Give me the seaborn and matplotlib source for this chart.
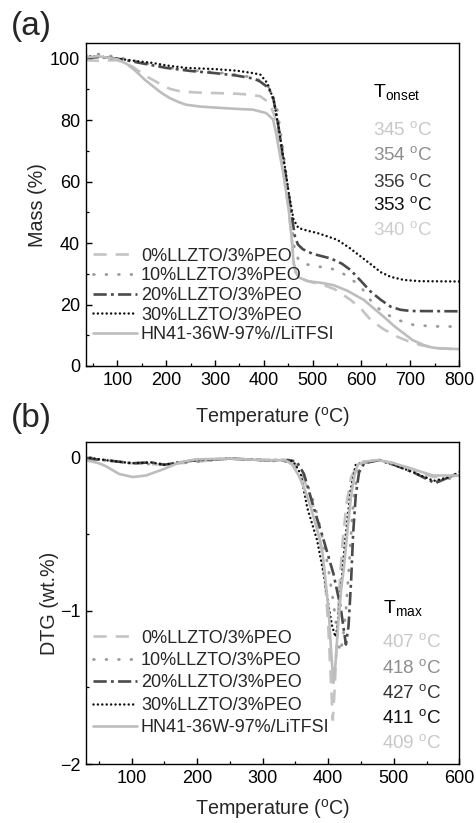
import numpy as np
import pandas as pd
import seaborn as sns
import matplotlib.pyplot as plt
from matplotlib.ticker import MultipleLocator

sns.set_style("ticks")
plt.rcParams['font.family'] = ['Liberation Sans', 'DejaVu Sans']
plt.rcParams['mathtext.fontset'] = 'custom'
plt.rcParams['mathtext.rm'] = 'Liberation Sans'
plt.rcParams['mathtext.it'] = 'Liberation Sans:italic'
plt.rcParams['mathtext.default'] = 'regular'

# ---------------- TGA data (panel a) ----------------
tga_labels = ["0%LLZTO/3%PEO", "10%LLZTO/3%PEO", "20%LLZTO/3%PEO",
              "30%LLZTO/3%PEO", "HN41-36W-97%//LiTFSI"]

tga_t_0 = [35, 60, 100, 130, 159, 185, 207, 230, 262, 300, 344, 370, 392, 412, 425, 433,
           441, 451, 458, 462, 468, 480, 500, 520, 545, 578, 600, 619, 645, 674, 700, 722, 750, 800]
tga_m_0 = [99.5, 99.3, 99.5, 97.5, 94.3, 92.0, 90.2, 89.3, 89.0, 88.8, 88.6, 88.3, 87.8, 85.6, 80.0, 72.0,
           62.0, 51.0, 40.0, 33.0, 29.5, 28.2, 27.2, 26.5, 25.0, 21.5, 18.5, 15.0, 12.0, 9.5, 7.8, 6.8, 5.9, 5.4]

tga_t_10 = [35, 60, 100, 150, 200, 250, 300, 344, 380, 405, 418, 428, 438, 446, 452, 458, 463,
            470, 478, 500, 537, 560, 578, 600, 626, 650, 674, 708, 750, 800]
tga_m_10 = [101.0, 101.5, 100.5, 98.8, 97.2, 96.2, 95.6, 94.8, 93.8, 92.0, 88.5, 83.0, 72.0, 62.0, 54.0, 45.0, 38.0,
            35.0, 33.5, 32.6, 31.8, 30.3, 28.5, 25.5, 19.8, 17.0, 15.0, 13.3, 12.9, 12.8]

tga_t_20 = [35, 60, 100, 150, 200, 250, 300, 344, 380, 392, 410, 420, 430, 440, 451, 459, 464,
            470, 480, 500, 537, 560, 578, 600, 619, 640, 660, 680, 701, 800]
tga_m_20 = [100.2, 100.5, 100.0, 98.5, 97.0, 96.0, 95.3, 94.5, 93.5, 92.6, 90.5, 86.7, 78.0, 67.0, 56.0, 47.0, 42.0,
            39.5, 38.0, 36.5, 35.0, 33.3, 31.2, 27.5, 24.2, 21.5, 19.3, 18.3, 17.9, 17.8]

tga_t_30 = [35, 60, 100, 140, 173, 200, 241, 300, 344, 378, 393, 407, 420, 430, 441, 451, 461,
            471, 490, 509, 530, 550, 575, 598, 620, 640, 660, 687, 720, 800]
tga_m_30 = [100.8, 100.8, 100.0, 99.2, 98.6, 97.8, 97.0, 96.6, 96.1, 95.3, 94.8, 92.1, 86.7, 78.0, 67.1, 56.3, 47.6,
            44.9, 44.0, 43.3, 42.2, 41.1, 38.5, 35.7, 33.0, 30.5, 29.0, 28.0, 27.6, 27.5]

tga_t_hn = [35, 60, 100, 120, 138, 155, 173, 190, 207, 225, 241, 270, 309, 340, 378, 405, 419,
            425, 431, 441, 451, 458, 461, 465, 472, 490, 520, 543, 571, 605, 625, 646, 667, 687,
            705, 728, 745, 762, 800]
tga_m_hn = [100.5, 100.8, 99.8, 98.2, 95.9, 93.3, 91.0, 88.9, 87.2, 85.9, 85.0, 84.4, 84.0, 83.7, 83.4, 82.3, 80.2,
            75.9, 70.5, 61.7, 50.9, 40.0, 33.5, 30.5, 28.8, 27.6, 27.0, 26.3, 24.5, 21.5, 18.8, 16.0, 13.0, 10.6,
            8.4, 6.8, 6.0, 5.7, 5.5]

tonset_values = ["345", "354", "356", "353", "340"]

# ---------------- DTG data (panel b) ----------------
dtg_labels = ["0%LLZTO/3%PEO", "10%LLZTO/3%PEO", "20%LLZTO/3%PEO",
              "30%LLZTO/3%PEO", "HN41-36W-97%/LiTFSI"]

dtg_t_0 = [30, 60, 100, 150, 200, 250, 300, 340, 350, 360, 370, 380, 390, 396, 400, 404, 407,
           410, 413, 417, 422, 428, 435, 445, 460, 478, 500, 530, 560, 580, 600]
dtg_d_0 = [-0.01, -0.02, -0.04, -0.05, -0.03, -0.01, -0.02, -0.03, -0.06, -0.12, -0.22, -0.36, -0.60, -0.85,
           -1.10, -1.45, -1.71, -1.50, -1.20, -0.85, -0.55, -0.30, -0.13, -0.05, -0.03, -0.02, -0.04, -0.08,
           -0.13, -0.13, -0.12]

dtg_t_10 = [30, 60, 100, 150, 200, 250, 300, 340, 350, 360, 370, 380, 390, 400, 408, 414, 418,
            422, 427, 432, 436, 440, 446, 455, 478, 500, 530, 563, 585, 600]
dtg_d_10 = [-0.01, -0.02, -0.04, -0.05, -0.03, -0.01, -0.02, -0.03, -0.05, -0.10, -0.20, -0.32, -0.50, -0.72,
            -0.95, -1.15, -1.27, -1.20, -1.00, -0.70, -0.42, -0.22, -0.09, -0.04, -0.02, -0.05, -0.09, -0.16,
            -0.14, -0.11]

dtg_t_20 = [30, 60, 100, 130, 150, 180, 200, 250, 300, 340, 352, 363, 378, 393, 408, 419, 427,
            431, 435, 438, 442, 447, 455, 478, 500, 530, 563, 585, 600]
dtg_d_20 = [-0.01, -0.02, -0.04, -0.035, -0.05, -0.03, -0.02, -0.01, -0.02, -0.02, -0.03, -0.11, -0.33, -0.54,
            -0.76, -0.98, -1.22, -1.10, -0.80, -0.50, -0.25, -0.10, -0.04, -0.02, -0.05, -0.10, -0.17, -0.13,
            -0.10]

dtg_t_30 = [30, 60, 100, 130, 150, 180, 200, 250, 300, 340, 347, 358, 368, 383, 393, 401, 406,
            411, 414, 419, 426, 434, 442, 455, 478, 500, 530, 561, 585, 599]
dtg_d_30 = [0.0, -0.02, -0.04, -0.035, -0.05, -0.03, -0.02, -0.01, -0.02, -0.02, -0.03, -0.11, -0.33, -0.54,
            -0.76, -0.98, -1.10, -1.17, -1.11, -0.87, -0.54, -0.22, -0.05, -0.03, -0.02, -0.05, -0.10, -0.155,
            -0.13, -0.10]

dtg_t_hn = [30, 50, 61, 81, 102, 122, 148, 173, 198, 250, 300, 335, 345, 355, 365, 375, 385, 391,
            397, 401, 405, 408, 411, 415, 420, 424, 430, 435, 440, 445, 455, 475, 500, 530, 560, 582, 600]
dtg_d_hn = [-0.02, -0.04, -0.06, -0.11, -0.13, -0.12, -0.08, -0.035, -0.015, -0.01, -0.02, -0.02, -0.05,
            -0.12, -0.22, -0.35, -0.50, -0.61, -0.85, -1.02, -1.30, -1.47, -1.35, -1.10, -0.85, -0.72, -0.45,
            -0.25, -0.12, -0.05, -0.03, -0.02, -0.04, -0.08, -0.12, -0.12, -0.12]

tmax_values = ["407", "418", "427", "411", "409"]

# ---------------- styles ----------------
colors = ["#c4c4c4", "#9a9a9a", "#4a4a4a", "#111111", "#bdbdbd"]
text_colors_a = ["#c8c8c8", "#8e8e8e", "#3c3c3c", "#111111", "#cdcdcd"]
text_colors_b = ["#c8c8c8", "#8e8e8e", "#333333", "#111111", "#c8c8c8"]
styles = [(0, (5, 3.4)), (0, (0.3, 4.2)), (0, (5, 1.6, 1.1, 1.6)), (0, (0.01, 1.75)), "-"]
caps = ["butt", "round", "butt", "round", "butt"]
widths = [1.9, 2.0, 1.9, 1.8, 1.9]

W, H = 477, 823
fig = plt.figure(figsize=(W / 100, H / 100), dpi=100)


def fx(px):
    return px / W


def fy(py):
    return 1 - py / H


ax_a = fig.add_axes([fx(85.7), fy(366), fx(459) - fx(85.7), fy(43.3) - fy(366)])
ax_b = fig.add_axes([fx(85.7), fy(764.3), fx(459.3) - fx(85.7), fy(441.7) - fy(764.3)])

tga_series = [(tga_t_0, tga_m_0), (tga_t_10, tga_m_10), (tga_t_20, tga_m_20),
              (tga_t_30, tga_m_30), (tga_t_hn, tga_m_hn)]
dtg_series = [(dtg_t_0, dtg_d_0), (dtg_t_10, dtg_d_10), (dtg_t_20, dtg_d_20),
              (dtg_t_30, dtg_d_30), (dtg_t_hn, dtg_d_hn)]

for ax, series, labels in [(ax_a, tga_series, tga_labels), (ax_b, dtg_series, dtg_labels)]:
    for (t, v), lab, c, ls, lw, cap in zip(series, labels, colors, styles, widths, caps):
        df = pd.DataFrame({"T": t, "v": v})
        sns.lineplot(data=df, x="T", y="v", ax=ax, color=c, linestyle=ls, linewidth=lw,
                     label=lab, sort=False, dash_capstyle=cap)

# axes formatting
for ax in (ax_a, ax_b):
    for s in ax.spines.values():
        s.set_linewidth(1.0)
        s.set_color("black")
    ax.tick_params(which="both", direction="in", top=False, right=False,
                   labelsize=13, colors="black")
    ax.tick_params(which="major", length=4.5, width=1.0, pad=4)
    ax.tick_params(which="minor", length=2.5, width=0.9)
    ax.xaxis.set_minor_locator(MultipleLocator(50))

ax_a.set_xlim(35, 800)
ax_a.set_ylim(0, 105)
ax_a.set_xticks(range(100, 801, 100))
ax_a.set_yticks(range(0, 101, 20))
ax_a.yaxis.set_minor_locator(MultipleLocator(10))

ax_b.set_xlim(30, 600)
ax_b.set_ylim(-2, 0.1)
ax_b.set_xticks(range(100, 601, 100))
ax_b.set_yticks([-2, -1, 0])
ax_b.yaxis.set_minor_locator(MultipleLocator(0.5))

ax_a.set_xlabel("Temperature ($^{o}$C)", fontsize=14.2)
ax_a.set_ylabel("Mass (%)", fontsize=14.2)
ax_b.set_xlabel("Temperature ($^{o}$C)", fontsize=14.2)
ax_b.set_ylabel("DTG (wt.%)", fontsize=14.2)
for ax, ylx in [(ax_a, -0.130), (ax_b, -0.096)]:
    ax.yaxis.label.set_va("center")
    ax.yaxis.set_label_coords(ylx, 0.5)
    ax.xaxis.label.set_va("center")
ax_a.xaxis.set_label_coords(0.5, (366 - 417) / 322.7)
ax_b.xaxis.set_label_coords(0.5, (764.3 - 809) / 322.6)

# legends
ax_a.legend(loc="upper left", bbox_to_anchor=((93 - 85.7) / 373.3, (366 - 247.6) / 322.7),
            frameon=False, fontsize=13, handlelength=2.45, handletextpad=0.2,
            labelspacing=0.15, borderpad=0, borderaxespad=0)
ax_b.legend(loc="upper left", bbox_to_anchor=((93 - 85.7) / 373.6, (764.3 - 629.6) / 322.6),
            frameon=False, fontsize=13, handlelength=2.45, handletextpad=0.2,
            labelspacing=0.3, borderpad=0, borderaxespad=0)

# onset / peak temperature annotations
fig.text(fx(373), fy(96.7), "T$_{onset}$", fontsize=14, color="black", va="baseline")
for val, c, yb in zip(tonset_values, text_colors_a, [135, 160, 186.7, 210, 235]):
    fig.text(fx(373), fy(yb), val + " $^{o}$C", fontsize=13.6, color=c, va="baseline")

fig.text(fx(383), fy(613), "T$_{max}$", fontsize=14, color="black", va="baseline")
for val, c, yb in zip(tmax_values, text_colors_b, [646.7, 673, 698, 723, 748]):
    fig.text(fx(382), fy(yb), val + " $^{o}$C", fontsize=13.6, color=c, va="baseline")

# panel labels
fig.text(fx(11), fy(27), "(a)", fontsize=24, va="center", ha="left")
fig.text(fx(11), fy(419), "(b)", fontsize=24, va="center", ha="left")

fig.savefig("out.png", dpi=100)
